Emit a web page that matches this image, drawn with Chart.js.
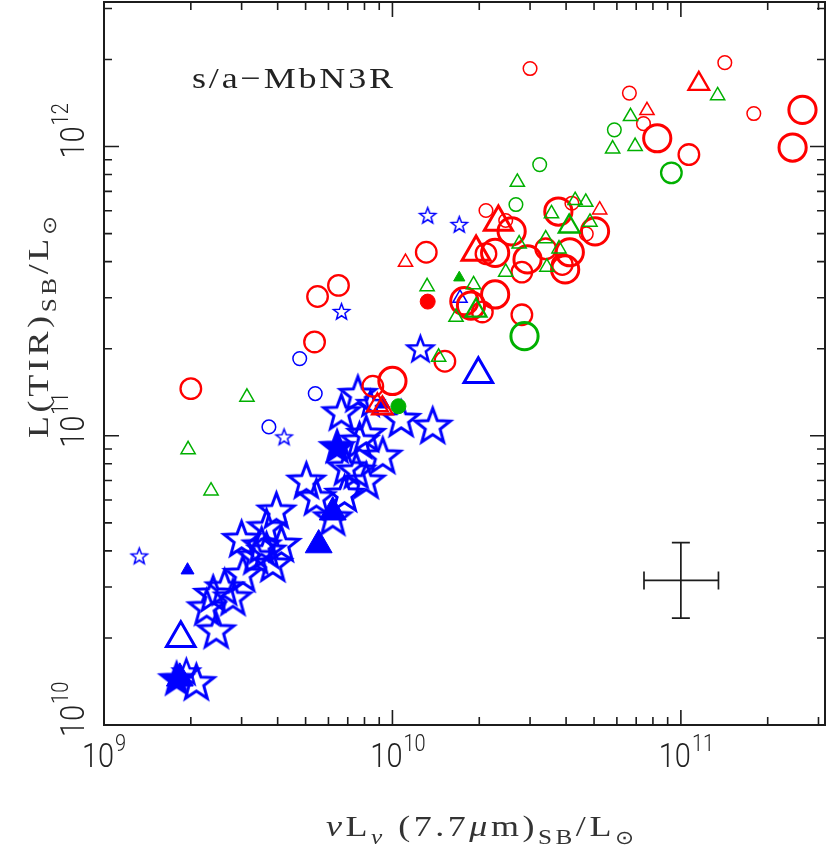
<!DOCTYPE html>
<html><head><meta charset="utf-8">
<script src="https://cdn.jsdelivr.net/npm/chart.js@4/dist/chart.umd.min.js"></script>
<style>html,body{margin:0;padding:0;background:#fff}canvas{display:block}</style>
</head><body>
<canvas id="c" width="830" height="849"></canvas>
<script>
// ---------------- DATA ----------------
const xTickExps = [9, 10, 11];
const yTickExps = [10, 11, 12];
const xMin = 1e9, xMax = 3.16e11, yMin = 1e10, yMax = 3.16e12;
const panelLabel = 's/a\u2212MbN3R';

// red
const redCircleSmallX = [3.0e10, 1.42e11, 6.63e10, 7.42e10, 1.79e11, 2.11e10, 2.47e10, 4.19e10, 4.70e10];
const redCircleSmallY = [1.86e12, 1.95e12, 1.53e12, 1.20e12, 1.30e12, 6.01e11, 5.55e11, 6.37e11, 4.99e11];
const redCircleMedX = [1.066e11, 1.31e10, 2.11e10, 3.40e10, 3.88e10, 2.81e10, 2.05e10, 2.81e10, 1.52e10, 5.37e9, 5.50e9, 6.50e9, 2.0e9, 8.55e9];
const redCircleMedY = [9.38e11, 4.31e11, 4.26e11, 4.43e11, 3.91e11, 3.68e11, 2.68e11, 2.62e11, 1.81e11, 2.11e11, 3.03e11, 3.31e11, 1.455e11, 1.483e11];
const redCircleLargeX = [8.28e10, 2.64e11, 2.44e11, 3.76e10, 2.59e10, 5.04e10, 2.27e10, 2.94e10, 4.12e10, 3.97e10, 1.775e10, 1.872e10, 2.27e10, 1.0e10];
const redCircleLargeY = [1.068e12, 1.339e12, 9.92e11, 5.96e11, 5.09e11, 5.09e11, 4.29e11, 4.07e11, 4.31e11, 3.76e11, 2.92e11, 2.82e11, 3.08e11, 1.547e11];
const redCircleFilledX = [1.325e10];
const redCircleFilledY = [2.91e11];
const redTriSmallX = [7.63e10, 5.23e10, 1.11e10];
const redTriSmallY = [1.332e12, 6.04e11, 3.98e11];
const redTriMedX = [1.154e11, 8.87e9, 9.23e9];
const redTriMedY = [1.647e12, 1.275e11, 1.245e11];
const redTriLargeX = [2.33e10, 1.95e10];
const redTriLargeY = [5.48e11, 4.31e11];

// green
const greenTriSmallX = [1.341e11, 6.69e10, 5.80e10, 6.94e10, 2.71e10, 4.30e10, 4.68e10, 4.84e10, 3.56e10, 2.75e10, 3.40e10, 3.78e10, 2.47e10, 3.43e10, 1.319e10, 1.911e10, 1.661e10, 1.446e10, 3.13e9, 1.957e9, 2.35e9];
const greenTriSmallY = [1.50e12, 1.27e12, 9.82e11, 1.002e12, 7.53e11, 6.51e11, 6.42e11, 5.48e11, 5.86e11, 4.61e11, 4.80e11, 4.43e11, 3.68e11, 3.83e11, 3.28e11, 3.33e11, 2.57e11, 1.871e11, 1.361e11, 8.96e10, 6.45e10];
const greenTriMedX = [4.10e10, 1.949e10];
const greenTriMedY = [5.29e11, 2.71e11];
const greenTriFilledX = [1.705e10];
const greenTriFilledY = [3.52e11];
const greenCircleSmallX = [5.88e10, 3.24e10, 2.68e10];
const greenCircleSmallY = [1.142e12, 8.66e11, 6.30e11];
const greenCircleMedX = [9.27e10];
const greenCircleMedY = [8.11e11];
const greenCircleLargeX = [2.87e10];
const greenCircleLargeY = [2.21e11];
const greenCircleFilledX = [1.049e10];
const greenCircleFilledY = [1.265e11];

// blue
const blueCircleSmallX = [4.77e9, 5.40e9, 3.73e9];
const blueCircleSmallY = [1.848e11, 1.399e11, 1.073e11];
const blueTriSmallX = [1.715e10];
const blueTriSmallY = [2.99e11];
const blueTriLargeX = [1.985e10, 1.846e9];
const blueTriLargeY = [1.631e11, 1.993e10];
const blueTriFilledSmallX = [1.948e9, 9.31e9];
const blueTriFilledSmallY = [3.43e10, 1.285e11];
const blueTriFilledLargeX = [5.55e9, 6.21e9, 1.832e9];
const blueTriFilledLargeY = [4.19e10, 5.44e10, 1.45e10];
const blueStarSmallX = [1.325e10, 1.705e10, 6.66e9, 4.21e9, 1.325e9];
const blueStarSmallY = [5.78e11, 5.38e11, 2.69e11, 9.91e10, 3.84e10];
const blueStarMedX = [1.25e10, 8.39e9, 1.93e9];
const blueStarMedY = [2.00e11, 1.295e11, 1.528e10];
const blueStarLargeX = [7.59e9, 6.65e9, 1.072e10, 1.379e10, 8.11e9, 7.69e9, 9.26e9, 7.49e9, 6.92e9, 8.11e9, 5.03e9, 5.45e9, 6.82e9, 6.21e9, 3.96e9, 3.66e9, 3.00e9, 4.12e9, 3.66e9, 3.85e9, 3.03e9, 2.62e9, 2.39e9, 2.80e9, 2.27e9, 2.45e9, 2.09e9, 3.36e9, 3.52e9];
const blueStarLargeY = [1.399e11, 1.209e11, 1.147e11, 1.087e11, 1.018e11, 9.65e10, 8.56e10, 7.60e10, 7.80e10, 7.02e10, 7.02e10, 6.15e10, 6.32e10, 5.24e10, 5.53e10, 4.84e10, 4.41e10, 4.24e10, 4.02e10, 3.62e10, 3.34e10, 3.00e10, 2.85e10, 2.77e10, 2.56e10, 2.13e10, 1.411e10, 3.84e10, 4.19e10];
const blueStarFilledX = [6.43e9, 1.785e9];
const blueStarFilledY = [9.20e10, 1.45e10];

// typical error bar
const errX = 1e11, errY = 3.16e10;
const errXLo = 7.45e10, errXHi = 1.35e11, errYLo = 2.34e10, errYHi = 4.27e10;

// ---------------- STYLE ----------------
const RED = '#ff0000', GREEN = '#00b000', BLUE = '#0000ff', INK = '#1c1c1c';

function pts(xs, ys) { return xs.map((x, i) => ({ x: x, y: ys[i] })); }

function starImg(R, lw, color, filled) {
  const pad = Math.ceil(lw * 2 + 2);
  const s = Math.ceil(2 * R + 2 * pad);
  const cv = document.createElement('canvas'); cv.width = s; cv.height = s;
  const g = cv.getContext('2d');
  const cx = s / 2, cy = s / 2 + R * 0.08;
  g.beginPath();
  for (let i = 0; i < 10; i++) {
    const a = -Math.PI / 2 + i * Math.PI / 5;
    const rr = (i % 2) ? R * 0.42 : R;
    g.lineTo(cx + rr * Math.cos(a), cy + rr * Math.sin(a));
  }
  g.closePath();
  g.lineJoin = 'miter'; g.lineWidth = lw; g.strokeStyle = color;
  if (filled) { g.fillStyle = color; g.fill(); }
  g.stroke();
  return cv;
}

function ds(xs, ys, style, r, lw, color, filled, order) {
  return {
    data: pts(xs, ys), pointStyle: style, pointRadius: r, borderWidth: lw,
    borderColor: color, backgroundColor: filled ? color : 'rgba(0,0,0,0)',
    showLine: false, order: order
  };
}

const datasets = [
  ds(greenTriSmallX, greenTriSmallY, 'triangle', 8.2, 1.5, GREEN, false, 1),
  ds(greenTriMedX, greenTriMedY, 'triangle', 12, 2.3, GREEN, false, 1),
  ds(greenTriFilledX, greenTriFilledY, 'triangle', 6.5, 1, GREEN, true, 1),
  ds(greenCircleSmallX, greenCircleSmallY, 'circle', 6.8, 1.5, GREEN, false, 1),
  ds(greenCircleMedX, greenCircleMedY, 'circle', 10.3, 2.3, GREEN, false, 1),
  ds(greenCircleLargeX, greenCircleLargeY, 'circle', 13.6, 3, GREEN, false, 1),
  ds(greenCircleFilledX, greenCircleFilledY, 'circle', 7.5, 1, GREEN, true, 1),
  ds(redCircleSmallX, redCircleSmallY, 'circle', 6.8, 1.5, RED, false, 2),
  ds(redCircleMedX, redCircleMedY, 'circle', 10.3, 2.3, RED, false, 2),
  ds(redCircleLargeX, redCircleLargeY, 'circle', 13.6, 3, RED, false, 2),
  ds(redCircleFilledX, redCircleFilledY, 'circle', 7.5, 1, RED, true, 2),
  ds(redTriSmallX, redTriSmallY, 'triangle', 8.2, 1.5, RED, false, 2),
  ds(redTriMedX, redTriMedY, 'triangle', 12, 2.3, RED, false, 2),
  ds(redTriLargeX, redTriLargeY, 'triangle', 16.2, 3, RED, false, 2),
  ds(blueCircleSmallX, blueCircleSmallY, 'circle', 6.8, 1.5, BLUE, false, 3),
  ds(blueTriSmallX, blueTriSmallY, 'triangle', 8.2, 1.5, BLUE, false, 3),
  ds(blueTriLargeX, blueTriLargeY, 'triangle', 16.5, 3, BLUE, false, 3),
  ds(blueTriFilledSmallX, blueTriFilledSmallY, 'triangle', 7.5, 1, BLUE, true, 3),
  ds(blueTriFilledLargeX, blueTriFilledLargeY, 'triangle', 15.5, 1, BLUE, true, 3),
  ds(blueStarFilledX, blueStarFilledY, starImg(18, 2, BLUE, true), 10, 2, BLUE, true, 3),
  ds(blueStarSmallX, blueStarSmallY, starImg(8.5, 1.5, BLUE, false), 8, 1.5, BLUE, false, 3),
  ds(blueStarMedX, blueStarMedY, starImg(13.5, 2.5, BLUE, false), 12, 2.5, BLUE, false, 3),
  ds(blueStarLargeX, blueStarLargeY, starImg(18.5, 3, BLUE, false), 16, 3, BLUE, false, 3)
];

// ---------------- TEXT HELPERS ----------------
const SERIF = '"Liberation Serif", "DejaVu Serif", serif';
const DIGF = '300 29px Roboto, "DejaVu Sans", sans-serif';
const SUPF = '300 20px Roboto, "DejaVu Sans", sans-serif';

// draw a list of segments char by char, fitted to targetW with stretch plus a little letter spacing
function drawRich(ctx, segs, x, y, targetW, angle, align) {
  ctx.save(); ctx.translate(x, y); if (angle) ctx.rotate(angle);
  ctx.textAlign = 'left'; ctx.textBaseline = 'alphabetic';
  const chars = [];
  let w = 0;
  for (const s of segs) for (const ch of s.t) { ctx.font = s.f; const cw = ctx.measureText(ch).width; chars.push({ ch: ch, f: s.f, dy: s.dy || 0, w: cw }); w += cw; }
  let sx = 1, gap = 0;
  if (targetW) {
    sx = Math.min(targetW / w, 1.2);
    gap = (targetW - w * sx) / Math.max(1, chars.length - 1);
  }
  let cx = align === 'left' ? 0 : -targetW / 2;
  for (const c of chars) {
    ctx.save(); ctx.translate(cx, c.dy); ctx.scale(sx, 1); ctx.font = c.f; ctx.fillText(c.ch, 0, 0); ctx.restore();
    cx += c.w * sx + gap;
  }
  ctx.restore();
}
function drawPow(ctx, exp, x, y, angle, shift) {
  ctx.save(); ctx.translate(x, y); if (angle) ctx.rotate(angle);
  ctx.scale(1, 1.15);
  ctx.textBaseline = 'alphabetic'; ctx.textAlign = 'left';
  ctx.font = DIGF; const w1 = ctx.measureText('10').width;
  const x0 = shift - w1 / 2;
  ctx.fillText('10', x0, 0);
  ctx.font = SUPF; ctx.fillText(String(exp), x0 + w1 + 1, -14);
  ctx.restore();
}

const decor = {
  id: 'decor',
  afterDraw(chart) {
    const ctx = chart.ctx, ca = chart.chartArea, xs = chart.scales.x, ys = chart.scales.y;
    ctx.save();
    ctx.strokeStyle = INK; ctx.fillStyle = INK;
    // frame
    ctx.lineWidth = 2;
    ctx.strokeRect(ca.left, ca.top, ca.right - ca.left, ca.bottom - ca.top);
    // ticks
    ctx.lineWidth = 1.6;
    ctx.beginPath();
    for (let d = 8; d <= 12; d++) for (let k = 1; k <= 9; k++) {
      const v = k * Math.pow(10, d);
      if (v < xMin * 0.999 || v > xMax) continue;
      const px = xs.getPixelForValue(v), len = k === 1 ? 15 : 8;
      ctx.moveTo(px, ca.bottom); ctx.lineTo(px, ca.bottom - len);
      ctx.moveTo(px, ca.top); ctx.lineTo(px, ca.top + len);
    }
    for (let d = 9; d <= 13; d++) for (let k = 1; k <= 9; k++) {
      const v = k * Math.pow(10, d);
      if (v < yMin * 0.999 || v > yMax) continue;
      const py = ys.getPixelForValue(v), len = k === 1 ? 15 : 8;
      ctx.moveTo(ca.left, py); ctx.lineTo(ca.left + len, py);
      ctx.moveTo(ca.right, py); ctx.lineTo(ca.right - len, py);
    }
    ctx.stroke();
    // tick labels
    ctx.fillStyle = '#222';
    for (const e of xTickExps) drawPow(ctx, e, xs.getPixelForValue(Math.pow(10, e)), 767, 0, -6);
    for (const e of yTickExps) drawPow(ctx, e, 84, ys.getPixelForValue(Math.pow(10, e)), -Math.PI / 2, 4);
    // error bar cross
    ctx.strokeStyle = INK; ctx.lineWidth = 1.7;
    const ex = xs.getPixelForValue(errX), ey = ys.getPixelForValue(errY);
    const xl = xs.getPixelForValue(errXLo), xh = xs.getPixelForValue(errXHi);
    const yl = ys.getPixelForValue(errYLo), yh = ys.getPixelForValue(errYHi);
    ctx.beginPath();
    ctx.moveTo(xl, ey); ctx.lineTo(xh, ey);
    ctx.moveTo(ex, yl); ctx.lineTo(ex, yh);
    ctx.moveTo(xl, ey - 9); ctx.lineTo(xl, ey + 9);
    ctx.moveTo(xh, ey - 9); ctx.lineTo(xh, ey + 9);
    ctx.moveTo(ex - 9, yl); ctx.lineTo(ex + 9, yl);
    ctx.moveTo(ex - 9, yh); ctx.lineTo(ex + 9, yh);
    ctx.stroke();
    // panel label
    ctx.fillStyle = '#222';
    drawRich(ctx, [{ t: panelLabel, f: '30px ' + SERIF }], 192, 88, 201, 0, 'left');
    // axis titles
    ctx.fillStyle = '#333';
    const M = '30px ' + SERIF, MI = 'italic 30px ' + SERIF, S = '21px ' + SERIF, SI = 'italic 21px ' + SERIF;
    drawRich(ctx, [
      { t: '\u03bd', f: MI }, { t: 'L', f: M }, { t: '\u03bd', f: SI, dy: 8 }, { t: ' (7.7', f: M },
      { t: '\u03bc', f: MI }, { t: 'm)', f: M }, { t: 'SB', f: S, dy: 8 }, { t: '/L', f: M },
      { t: '\u2299', f: '19px "DejaVu Sans"', dy: 8 }
    ], 480, 836, 308, 0);
    drawRich(ctx, [
      { t: 'L(TIR)', f: M }, { t: 'SB', f: S, dy: 8 }, { t: '/L', f: M },
      { t: '\u2299', f: '19px "DejaVu Sans"', dy: 8 }
    ], 48, 327, 222, -Math.PI / 2);
    ctx.restore();
  }
};

new Chart(document.getElementById('c').getContext('2d'), {
  type: 'scatter',
  data: { datasets: datasets },
  options: {
    responsive: false, animation: false, devicePixelRatio: 1, events: [],
    layout: { autoPadding: false, padding: { left: 104, right: 5, top: 2, bottom: 124 } },
    plugins: { legend: { display: false }, tooltip: { enabled: false } },
    scales: {
      x: { type: 'logarithmic', min: xMin, max: xMax, display: false },
      y: { type: 'logarithmic', min: yMin, max: yMax, display: false }
    }
  },
  plugins: [decor]
});
</script>
</body></html>
